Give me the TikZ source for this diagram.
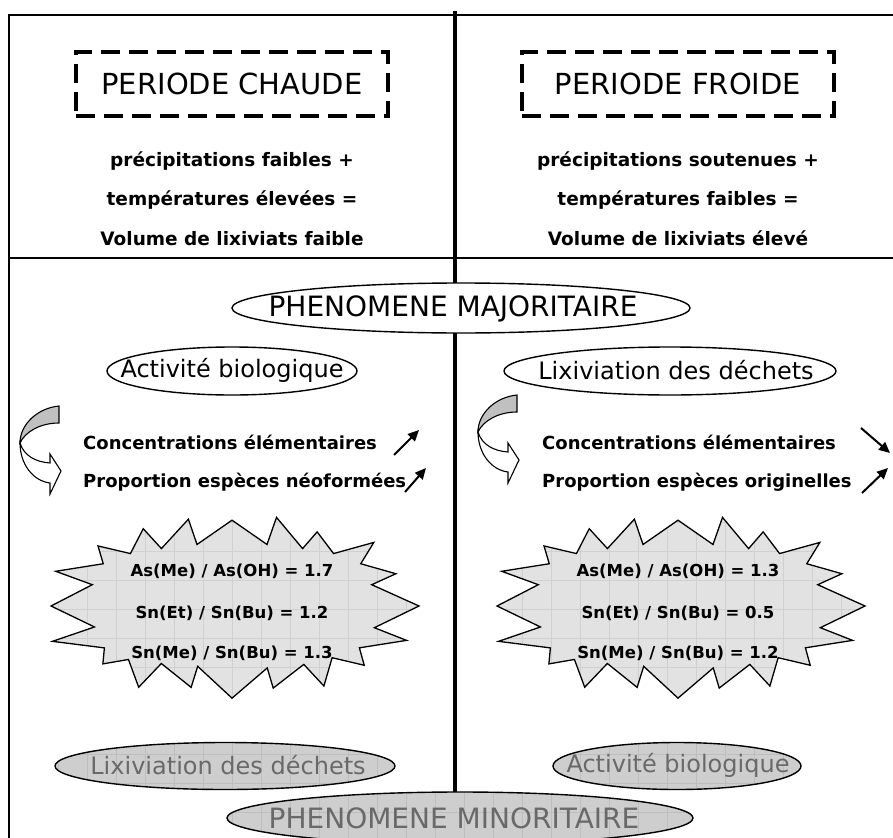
\documentclass[tikz,border=0pt]{standalone}
\usepackage{fontspec}
\setmainfont{DejaVu Sans}
\usetikzlibrary{arrows.meta}
\definecolor{burstfill}{RGB}{226,226,226}
\definecolor{burstgrid}{RGB}{208,208,208}
\definecolor{ellfill}{RGB}{206,206,206}
\definecolor{ellgrid}{RGB}{190,190,190}
\definecolor{elltext}{RGB}{105,105,105}
\definecolor{arrfill}{RGB}{192,192,192}
\begin{document}
\begin{tikzpicture}[x=1pt,y=-1pt,
  dashbox/.style={draw, line width=3.2pt, dash pattern=on 19pt off 9pt,
    minimum width=312pt, minimum height=64pt, inner sep=0pt,
    font=\fontsize{29}{34}\selectfont},
  infotext/.style={font=\bfseries\fontsize{18.5}{22}\selectfont, inner sep=0pt, anchor=base},
  ovaltext/.style={font=\fontsize{24}{28}\selectfont, inner sep=0pt},
  bigovaltext/.style={font=\fontsize{28}{32}\selectfont, inner sep=0pt},
  rowtext/.style={font=\bfseries\fontsize{18}{22}\selectfont, inner sep=0pt, anchor=base west},
  bursttext/.style={font=\bfseries\fontsize{16.5}{20}\selectfont, inner sep=0pt, anchor=base},
  oval/.style={draw, line width=1.4pt, fill=white},
  ovalline/.style={draw, line width=1.4pt},
  trend/.style={-{Triangle[length=11pt,width=10pt]}, line width=2pt},
  curvedge/.style={draw, line width=1.1pt},
]
\useasboundingbox (0,0) rectangle (893,837);
\fill[white] (0,0) rectangle (893,837);
\clip (0,0) rectangle (893,837);

% frame
\draw[line width=2pt] (9,840) -- (9,15.5) -- (895,15.5);
\draw[line width=2pt] (9,258) -- (895,258);
\draw[line width=3.5pt] (455,11) -- (455,800);

% titles
\node[dashbox] (chaude) at (232,84) {PERIODE CHAUDE};
\node[dashbox] (froide) at (678,84) {PERIODE FROIDE};

\node[infotext] (c1) at (232,167) {précipitations faibles +};
\node[infotext] (c2) at (232,205) {températures élevées =};
\node[infotext] (c3) at (232,245) {Volume de lixiviats faible};
\node[infotext] (f1) at (678,167) {précipitations soutenues +};
\node[infotext] (f2) at (678,205) {températures faibles =};
\node[infotext] (f3) at (678,245) {Volume de lixiviats élevé};

% major phenomenon
\path[oval] (461,308) ellipse [x radius=229pt, y radius=25pt];
\node[bigovaltext] (maj) at (453,309) {PHENOMENE MAJORITAIRE};

\path[oval] (232,371) ellipse [x radius=125pt, y radius=24pt];
\node[ovaltext] (bioL) at (232,370) {Activité biologique};
\path[oval] (670,371) ellipse [x radius=166pt, y radius=24pt];
\node[ovaltext] (lixR) at (676,370) {Lixiviation des déchets};

% curved arrows
\foreach \dx/\dy in {0/0, 458/-11}{
  \begin{scope}[shift={(\dx,\dy)}]
    \path[curvedge, fill=arrfill] (59,406) .. controls (38,408) and (20,424) .. (20,443)
       .. controls (25,432) and (40,423) .. (59,423) -- cycle;
    \path[curvedge, fill=white] (20,443) .. controls (20,464) and (33,481) .. (50,483)
       -- (50,494) -- (61,471) -- (50,454) -- (50,463)
       .. controls (36,462) and (24,456) .. (20,443) -- cycle;
  \end{scope}
}

% trend rows
\node[rowtext] (concL) at (83,449) {Concentrations élémentaires};
\node[rowtext] (propL) at (83,487) {Proportion espèces néoformées};
\node[rowtext] (concR) at (542,449) {Concentrations élémentaires};
\node[rowtext] (propR) at (542,487) {Proportion espèces originelles};

\coordinate (t1a) at (394,455); \coordinate (t1b) at (419,430);
\coordinate (t2a) at (405,492); \coordinate (t2b) at (426,468);
\coordinate (t3a) at (861,428); \coordinate (t3b) at (890,453);
\coordinate (t4a) at (862,493); \coordinate (t4b) at (888,468);
\draw[trend] (t1a) -- (t1b);
\draw[trend] (t2a) -- (t2b);
\draw[trend] (t3a) -- (t3b);
\draw[trend] (t4a) -- (t4b);

% starbursts
\foreach \i in {0,...,39}{
  \pgfmathsetmacro\th{\i*9}
  \pgfmathsetmacro\tt{\th+8*sin(2*\th)}
  \pgfmathsetmacro\cc{cos(\tt)}
  \pgfmathsetmacro\ss{sin(\tt)}
  \pgfmathsetmacro\ex{ifthenelse(mod(\i,2)==0,1,0.65)}
  \pgfmathsetmacro\ux{ifthenelse(\cc<0,-1,1)*pow(abs(\cc),\ex)}
  \pgfmathsetmacro\uy{ifthenelse(\ss<0,-1,1)*pow(abs(\ss),\ex)}
  \pgfmathsetmacro\rx{ifthenelse(mod(\i,2)==0,187,142)}
  \pgfmathsetmacro\ry{ifthenelse(mod(\i,2)==0,88,61)}
  \pgfmathsetmacro\jit{ifthenelse(mod(\i,2)==0,1+0.05*sin(\i*83),1+0.02*sin(\i*51))}
  \coordinate (L\i) at ({232+\jit*\rx*\ux},{606+\jit*\ry*\uy});
  \coordinate (R\i) at ({678+\jit*\rx*\ux},{606+\jit*\ry*\uy});
}
\begin{scope}
  \clip (L0) \foreach \i in {1,...,39}{ -- (L\i)} -- cycle;
  \fill[burstfill] (40,510) rectangle (430,705);
  \draw[burstgrid, line width=0.5pt, step=29pt] (40,510) grid (430,705);
\end{scope}
\draw[line width=1.3pt, line join=miter] (L0) \foreach \i in {1,...,39}{ -- (L\i)} -- cycle;
\begin{scope}
  \clip (R0) \foreach \i in {1,...,39}{ -- (R\i)} -- cycle;
  \fill[burstfill] (485,510) rectangle (875,705);
  \draw[burstgrid, line width=0.5pt, step=29pt] (485,510) grid (875,705);
\end{scope}
\draw[line width=1.3pt, line join=miter] (R0) \foreach \i in {1,...,39}{ -- (R\i)} -- cycle;

\node[bursttext] (bl1) at (232,576) {As(Me) / As(OH) = 1.7};
\node[bursttext] (bl2) at (232,618) {Sn(Et) / Sn(Bu) = 1.2};
\node[bursttext] (bl3) at (232,658) {Sn(Me) / Sn(Bu) = 1.3};
\node[bursttext] (br1) at (678,576) {As(Me) / As(OH) = 1.3};
\node[bursttext] (br2) at (678,618) {Sn(Et) / Sn(Bu) = 0.5};
\node[bursttext] (br3) at (678,658) {Sn(Me) / Sn(Bu) = 1.2};

% minor phenomenon (gray ovals)
\foreach \cx/\cy/\rx/\ry in {225/766/170/23.5, 677/766/124/23.5, 460/818/233/26}{
  \begin{scope}
    \clip (\cx,\cy) ellipse [x radius=\rx pt, y radius=\ry pt];
    \fill[ellfill] (\cx-\rx,\cy-\ry) rectangle (\cx+\rx,\cy+\ry);
    \draw[ellgrid, line width=0.5pt, step=29pt] (\cx-\rx,\cy-\ry) grid (\cx+\rx,\cy+\ry);
  \end{scope}
  \path[ovalline] (\cx,\cy) ellipse [x radius=\rx pt, y radius=\ry pt];
}
\node[ovaltext, text=elltext] (lixL) at (228,765) {Lixiviation des déchets};
\node[ovaltext, text=elltext] (bioR) at (678,765) {Activité biologique};
\node[bigovaltext, text=elltext] (mino) at (454,818) {PHENOMENE MINORITAIRE};
\end{tikzpicture}
\end{document}
